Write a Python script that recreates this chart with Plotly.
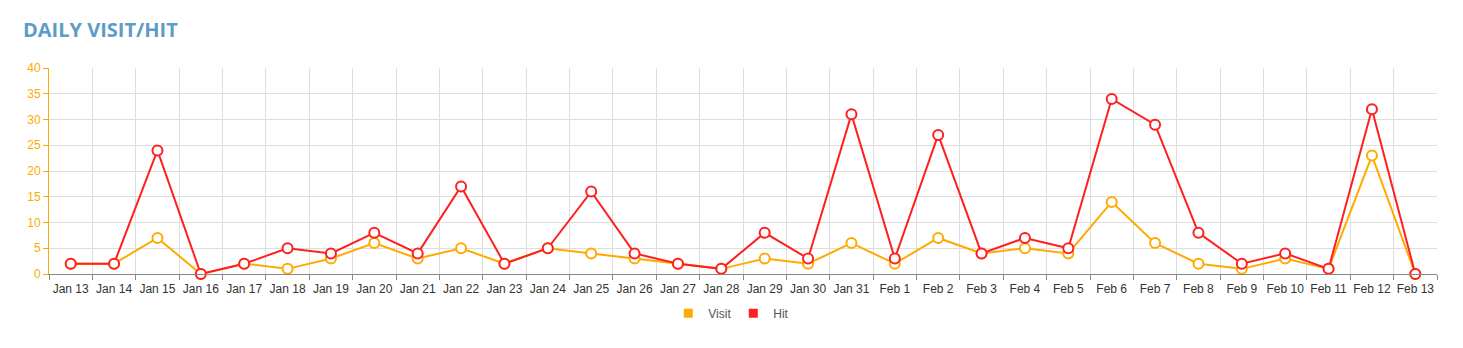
import plotly.graph_objects as go

dates = ["Jan 13", "Jan 14", "Jan 15", "Jan 16", "Jan 17", "Jan 18", "Jan 19", "Jan 20",
         "Jan 21", "Jan 22", "Jan 23", "Jan 24", "Jan 25", "Jan 26", "Jan 27", "Jan 28",
         "Jan 29", "Jan 30", "Jan 31", "Feb 1", "Feb 2", "Feb 3", "Feb 4", "Feb 5",
         "Feb 6", "Feb 7", "Feb 8", "Feb 9", "Feb 10", "Feb 11", "Feb 12", "Feb 13"]
visit = [2, 2, 7, 0, 2, 1, 3, 6, 3, 5, 2, 5, 4, 3, 2, 1,
         3, 2, 6, 2, 7, 4, 5, 4, 14, 6, 2, 1, 3, 1, 23, 0]
hit = [2, 2, 24, 0, 2, 5, 4, 8, 4, 17, 2, 5, 16, 4, 2, 1,
       8, 3, 31, 3, 27, 4, 7, 5, 34, 29, 8, 2, 4, 1, 32, 0]

VISIT_C = "#ffaa00"
HIT_C = "#ff1f1f"

fig = go.Figure()
for name, vals, col in [("Visit", visit, VISIT_C), ("Hit", hit, HIT_C)]:
    fig.add_trace(go.Scatter(
        x=dates, y=vals, mode="lines+markers", name=name, showlegend=False,
        line=dict(color=col, width=2),
        marker=dict(size=10, color="white", line=dict(color=col, width=2)),
        cliponaxis=False,
    ))
for name, col in [("Visit", VISIT_C), ("Hit", HIT_C)]:
    fig.add_trace(go.Scatter(
        x=[None], y=[None], mode="markers", name=name,
        marker=dict(symbol="square", size=9, color=col),
    ))

fig.update_layout(
    width=1463, height=348,
    margin=dict(l=49, r=26, t=68, b=74),
    paper_bgcolor="white", plot_bgcolor="white",
    font=dict(family="Liberation Sans, Arial, sans-serif", size=12, color="#444"),
    title=dict(text="DAILY VISIT/HIT", x=0.0157, xanchor="left", y=0.913, yanchor="middle",
               font=dict(family="Open Sans, sans-serif", size=20, color="#5e9cc8", weight=700)),
    showlegend=True,
    legend=dict(orientation="h", x=0.493, xanchor="center", y=-0.12, yanchor="top",
                font=dict(size=12, color="#555"), itemwidth=30, tracegroupgap=0,
                entrywidth=20, entrywidthmode="pixels"),
    xaxis=dict(
        type="category", tickson="boundaries", range=[-0.5, 31.5],
        showgrid=True, gridcolor="#dedede", gridwidth=1,
        showline=True, linecolor="#888", linewidth=1,
        ticks="outside", ticklen=5, tickcolor="#888", tickangle=0,
        ticklabelstandoff=4,
        tickfont=dict(size=12, color="#333"), zeroline=False, automargin=False,
    ),
    yaxis=dict(
        range=[0, 40], dtick=5, tick0=0,
        showgrid=True, gridcolor="#dedede", gridwidth=1,
        showline=True, linecolor="#ffaa00", linewidth=1,
        ticks="outside", ticklen=5, tickcolor="#ffaa00",
        tickfont=dict(size=12, color="#ffaa00"), zeroline=False, automargin=False,
    ),
)

fig.write_html("out.html")
